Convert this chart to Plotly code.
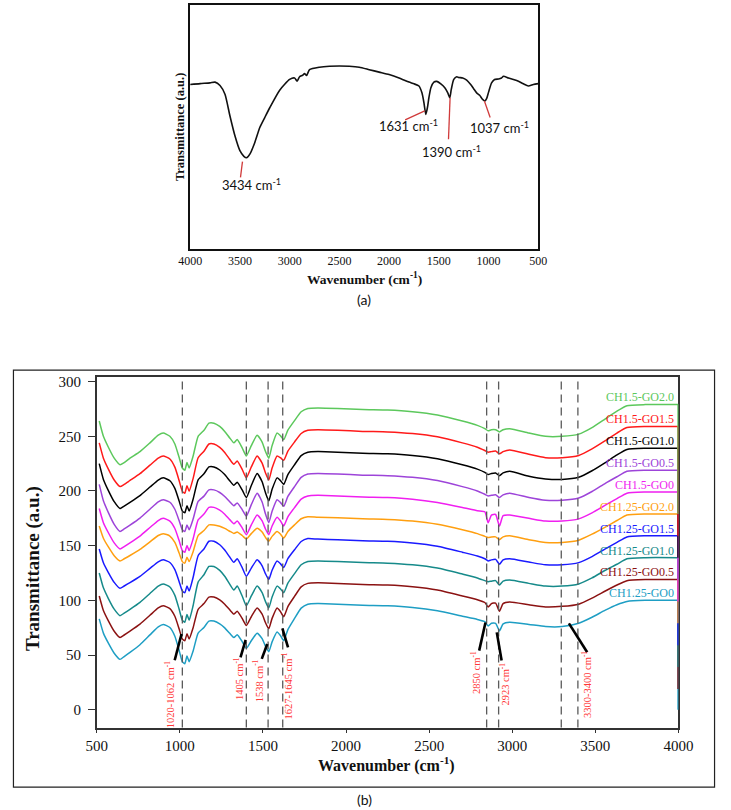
import plotly.graph_objects as go

W, H = 731, 810

# ---------------- Panel (a): GO spectrum ----------------
a_wavenumber = [4000, 3900, 3800, 3750, 3700, 3650, 3600, 3550, 3500, 3460, 3434, 3400, 3350, 3300, 3250,
                3200, 3100, 3000, 2950, 2925, 2900, 2870, 2850, 2830, 2800, 2700, 2600, 2500, 2400, 2300,
                2200, 2100, 2000, 1900, 1800, 1750, 1700, 1670, 1650, 1631, 1615, 1600, 1580, 1550, 1520,
                1480, 1440, 1410, 1390, 1375, 1350, 1320, 1300, 1260, 1220, 1180, 1150, 1120, 1090, 1060,
                1037, 1020, 1000, 970, 940, 900, 870, 850, 800, 750, 700, 650, 600, 550, 500]
a_transmittance = [67.4, 67.8, 68.1, 68.4, 67.0, 63.4, 54.5, 46.4, 40.3, 38.0, 37.4, 38.9, 43.7, 49.8, 53.9,
                   57.9, 65.1, 69.5, 70.1, 68.8, 70.6, 71.2, 71.9, 71.1, 73.5, 74.5, 74.9, 75.0, 74.9, 74.5,
                   73.5, 72.5, 71.5, 70.1, 68.4, 67.7, 66.8, 64.0, 60.0, 55.2, 57.9, 62.0, 66.1, 68.4, 68.7,
                   67.7, 66.1, 64.0, 62.0, 65.4, 69.5, 70.6, 70.3, 70.1, 69.2, 67.4, 65.7, 64.0, 63.0, 61.3,
                   60.7, 61.6, 64.3, 68.1, 69.5, 69.7, 70.1, 70.8, 70.1, 69.5, 68.8, 67.7, 66.8, 67.4, 67.8]
a_peak_text = ["3434 cm<sup>-1</sup>", "1631 cm<sup>-1</sup>", "1390 cm<sup>-1</sup>", "1037 cm<sup>-1</sup>"]
a_text_x = [3387, 1806, 1371, 894]
a_text_y = [26.3, 50.5, 40.0, 49.8]
a_lead_x0 = [3474, 1642, 1387, 1042]
a_lead_y0 = [35.8, 56.6, 62.0, 60.7]
a_lead_x1 = [3494, 1839, 1403, 984]
a_lead_y1 = [29.4, 52.9, 45.0, 53.9]
a_ticks = [4000, 3500, 3000, 2500, 2000, 1500, 1000, 500]

# ---------------- Panel (b): composite films ----------------
b_wavenumber = [515, 540, 570, 605, 640, 665, 700, 760, 820, 870, 900, 940, 970, 995, 1015, 1030, 1043, 1056,
                1080, 1110, 1145, 1175, 1205, 1240, 1270, 1300, 1325, 1345, 1375, 1400, 1430, 1465, 1495,
                1515, 1535, 1555, 1585, 1605, 1625, 1650, 1690, 1730, 1770,
                1830, 1950, 2100, 2250, 2400, 2550, 2700, 2790, 2835, 2855, 2875, 2900, 2923, 2945, 2985,
                3100, 3200, 3300, 3400, 3480, 3560, 3630, 3690, 3800, 4000]

series_names = ["CH1.25-GO0", "CH1.25-GO0.5", "CH1.25-GO1.0", "CH1.25-GO1.5", "CH1.25-GO2.0",
                "CH1.5-GO0", "CH1.5-GO0.5", "CH1.5-GO1.0", "CH1.5-GO1.5", "CH1.5-GO2.0"]
series_colors = ["#1e9ec4", "#8b1212", "#168a8a", "#1a1aff", "#ff9f10",
                 "#f01ff0", "#9d44d9", "#000000", "#ff1a1a", "#5cc85c"]

ch125_go0 = [83, 70, 60.8, 51.6, 46, 48.6, 52.4, 59.4, 68.4, 75.8, 78, 75.1, 67.2, 54.6, 43.8, 42, 49.2, 43.8,
             53.7, 70.1, 75.2, 81, 81, 78.5, 74.8, 69.8, 66, 68.5, 62.3, 56, 63, 70, 64.9, 58.1, 53, 62, 71,
             67.8, 63, 73.2, 83.4, 92.9, 96.5,
             97, 96.5, 95.5, 95, 93.5, 90.5, 85.5, 82.5, 80.5, 76.5, 79, 79, 72, 78.5, 80, 78, 76, 76, 79,
             84.5, 91, 96, 99, 100, 100]
ch125_go05 = [104, 90.7, 81.2, 71.7, 66, 68.3, 71.8, 78.2, 86.3, 93, 95, 92.4, 85.4, 74.2, 64.6, 63, 69.4, 64.6,
              75, 91.8, 97, 103, 103, 100.4, 96.5, 91.3, 87.4, 90, 83.5, 77, 85, 93, 87.3, 79.7, 74, 83.5, 93,
              89.8, 85, 94.3, 103.6, 112.3, 115.5,
              116, 115.5, 114.5, 114, 112.5, 109.5, 104, 100.5, 98, 94, 97, 97.5, 90, 97, 98.5, 96, 94, 94.5,
              96.5, 102, 108.5, 114, 118, 119, 119]
ch125_go10 = [125, 111.4, 101.6, 91.9, 86, 88.3, 91.8, 98.2, 106.3, 113, 115, 112.2, 104.5, 92.3, 81.8, 80, 87,
              81.8, 95.3, 116.7, 123.4, 131, 131, 127.4, 122, 114.8, 109.4, 113, 104, 95, 104, 113, 107, 99, 93,
              103, 113, 110.6, 107, 115.7, 124.4, 132.5, 135.5,
              136, 135.5, 134.5, 134, 132.5, 129.5, 124, 120.5, 118, 117, 117.5, 118, 114, 117.5, 118.5, 115.5,
              113, 113, 115, 120.5, 127.5, 133, 138, 139, 139]
ch125_go15 = [147, 134.4, 125.4, 116.4, 111, 113.1, 116.2, 121.9, 129.2, 135.2, 137, 134.6, 128, 117.5, 108.5,
              107, 113, 108.5, 121.1, 140.8, 147, 154, 154, 150.8, 146, 139.6, 134.8, 138, 130, 122, 129.5, 137,
              131.6, 124.4, 119, 127.5, 136, 133.6, 130, 138.1, 146.2, 153.8, 156.5,
              156, 155.5, 154.5, 154, 152.5, 149.5, 144, 140.5, 138, 136, 137, 137.5, 133, 137, 138, 135, 132.5,
              132.5, 134.5, 140, 147, 153, 158, 159, 159]
ch125_go20 = [168, 156.8, 148.8, 140.8, 136, 138, 141, 146.5, 153.5, 159.3, 161, 158.8, 152.9, 143.5, 135.4, 134,
              139.4, 135.4, 144.5, 159.2, 163.8, 169, 169, 167.7, 165.8, 163.2, 161.2, 162.5, 159.3, 156, 161,
              166, 162.4, 157.6, 154, 158.5, 163, 160.6, 157, 163, 169, 174.6, 176.5,
              176, 175.5, 174.5, 174, 172.5, 169.5, 164.5, 161, 158.5, 157.5, 158, 158, 155.5, 158, 159, 155.5,
              153, 153, 155, 160.5, 167, 173, 178, 179, 179]
ch15_go0 = [184, 171, 161.8, 152.5, 147, 149.2, 152.6, 158.8, 166.6, 173, 175, 172.5, 165.7, 154.9, 145.5, 144,
            150.2, 145.5, 156.3, 173.5, 178.9, 185, 185, 182.5, 178.8, 173.8, 170, 172.5, 166.3, 160, 169, 178,
            172.6, 165.4, 160, 168, 176, 172.8, 168, 176.4, 184.8, 192.6, 195.5,
            196, 195.5, 194.5, 194, 192.5, 189.5, 185, 182, 181, 171, 178, 178.5, 168, 177.5, 178, 175, 172.5,
            172.5, 174.5, 180, 187, 193, 198, 199, 199]
ch15_go05 = [206, 191, 180.2, 169.5, 163, 165.3, 168.8, 175.2, 183.3, 190, 192, 189.7, 183.3, 173.2, 164.5, 163,
             168.8, 164.5, 174.4, 190.4, 195.3, 201, 201, 198.6, 195, 190.2, 186.6, 189, 183, 177, 187.5, 198,
             189.9, 179.1, 171, 181.5, 192, 189.6, 186, 195, 204, 212.4, 215.5,
             216, 215.5, 214.5, 214, 212.5, 209.5, 204, 200, 197, 195.5, 196, 196.5, 194, 196.5, 198, 194, 191.5,
             191.5, 193.5, 199.5, 207, 213, 218, 219, 219]
ch15_go10 = [225, 210.6, 200.4, 190.2, 184, 186.2, 189.6, 195.8, 203.6, 210, 212, 209.4, 202.4, 191.2, 181.6, 180,
             186.4, 181.6, 192.6, 210.2, 215.7, 222, 222, 219.2, 215, 209.4, 205.2, 208, 201, 194, 205, 216,
             208.5, 198.5, 191, 201.5, 212, 209.6, 206, 215, 224, 232.4, 235.5,
             236, 235.5, 234.5, 234, 232.5, 229.5, 224, 220, 217, 215, 216, 216.5, 214, 216.5, 218, 213.5, 211,
             210.5, 212.5, 218.5, 226, 233, 238, 239, 239]
ch15_go15 = [244, 230, 220, 210, 204, 206, 209.6, 215.8, 223.6, 230, 232, 229.3, 221.8, 209.9, 199.7, 198, 204.8,
             199.7, 211.5, 230.4, 236.3, 243, 243, 239.9, 235.3, 229, 224.4, 227.5, 219.8, 212, 222, 232, 225.4,
             216.6, 210, 221, 232, 230.4, 228, 236.4, 244.8, 252.6, 255.5,
             256, 255.5, 254.5, 254, 252.5, 249.5, 244, 240, 237, 235.5, 236, 236.5, 234, 236, 237.5, 233.5,
             230.5, 230.5, 232.5, 238.5, 246, 253, 258, 259, 259]
ch15_go20 = [264, 250, 240, 230, 224, 226, 230, 236, 244, 251, 253, 250, 243, 231, 221, 219, 226, 221, 232, 250,
             255.5, 262, 262, 259, 254.5, 248.5, 244, 247, 239.5, 232, 241.5, 251, 244.7, 236.3, 230, 241.5, 253,
             250.6, 247, 255.7, 264.4, 272.5, 275.5,
             276, 275.5, 274.5, 274, 272.5, 269.5, 264, 260, 257, 255, 256, 256, 254, 256, 257, 253, 250, 250,
             252, 258, 266, 273, 278, 279, 279]
series_values = [ch125_go0, ch125_go05, ch125_go10, ch125_go15, ch125_go20,
                 ch15_go0, ch15_go05, ch15_go10, ch15_go15, ch15_go20]
edge_drop = [0, 19, 39, 59, 79, 99, 119, 139, 159, 179]

band_lines = [1015, 1400, 1531, 1619, 2846, 2918, 3295, 3395]
band_text = ["1020-1062 cm<sup>-1</sup>", "1405 cm<sup>-1</sup>", "1538 cm<sup>-1</sup>",
             "1627-1645 cm<sup>-1</sup>", "2850 cm<sup>-1</sup>", "2923 cm<sup>-1</sup>",
             "3300-3400 cm<sup>-1</sup>"]
band_text_x = [934, 1353, 1469, 1641, 2779, 2951, 3447]
band_text_y = [14, 28.5, 26.7, 21.5, 34, 23, 23]
lead_x0 = [969, 1365, 1493, 1651, 2801, 2936, 3451]
lead_y0 = [45.2, 47.9, 46.5, 57, 54, 44.9, 52.5]
lead_x1 = [1010, 1396, 1526, 1617, 2839, 2907, 3341]
lead_y1 = [69.2, 63.8, 60.1, 74.3, 79.8, 70.7, 78.9]
b_yticks = [0, 50, 100, 150, 200, 250, 300]
b_xticks = [500, 1000, 1500, 2000, 2500, 3000, 3500, 4000]

SERIF = "Liberation Serif, Times New Roman, serif"
SANS = "Lato, Open Sans, sans-serif"


def px(x):
    return x / W


def py(y):
    return 1 - y / H


fig = go.Figure()

fig.add_trace(go.Scatter(x=a_wavenumber, y=a_transmittance, mode="lines", xaxis="x", yaxis="y",
                         line=dict(color="#111111", width=1.6, shape="spline", smoothing=0.6),
                         showlegend=False, hoverinfo="skip"))

for name, col, vals in zip(series_names, series_colors, series_values):
    fig.add_trace(go.Scatter(x=b_wavenumber, y=vals, mode="lines", xaxis="x2", yaxis="y2", name=name,
                             line=dict(color=col, width=1.5, shape="spline", smoothing=0.5),
                             showlegend=False, hoverinfo="skip"))
for col, vals, low in zip(series_colors, series_values, edge_drop):
    fig.add_trace(go.Scatter(x=[b_wavenumber[-1], b_wavenumber[-1]], y=[vals[-1], low], mode="lines",
                             xaxis="x2", yaxis="y2", line=dict(color=col, width=2.2),
                             showlegend=False, hoverinfo="skip"))

shapes = []
annotations = []

# panel a leaders and labels
for t, tx, ty, x0, y0, x1, y1 in zip(a_peak_text, a_text_x, a_text_y, a_lead_x0, a_lead_y0, a_lead_x1, a_lead_y1):
    shapes.append(dict(type="line", xref="x", yref="y", x0=x0, y0=y0, x1=x1, y1=y1,
                       line=dict(color="#d03a3a", width=1.3)))
    annotations.append(dict(text=t, x=tx, y=ty, xref="x", yref="y", showarrow=False,
                            font=dict(family=SANS, size=13, color="#111111"), xanchor="center", yanchor="middle"))

# panel b dashed band lines
for bx in band_lines:
    shapes.append(dict(type="line", xref="x2", yref="y2 domain", x0=bx, x1=bx, y0=0, y1=0.986,
                       line=dict(color="#5a5a5a", width=1.3, dash="8px,5px")))
# leaders and band labels
for t, tx, ty, x0, y0, x1, y1 in zip(band_text, band_text_x, band_text_y, lead_x0, lead_y0, lead_x1, lead_y1):
    shapes.append(dict(type="line", xref="x2", yref="y2", x0=x0, y0=y0, x1=x1, y1=y1,
                       line=dict(color="#000000", width=2.6)))
    annotations.append(dict(text=t, x=tx, y=ty, xref="x2", yref="y2", showarrow=False, textangle=-90,
                            font=dict(family=SERIF, size=10.5, color="#ff3636"),
                            xanchor="center", yanchor="middle"))

# series labels
for name, col, vals in zip(series_names, series_colors, series_values):
    annotations.append(dict(text=name, x=b_wavenumber[-1], y=vals[-1] + 6.5, xref="x2", yref="y2",
                            showarrow=False, xanchor="right", yanchor="middle", xshift=-2,
                            font=dict(family=SERIF, size=12, color=col)))

# outer box of panel b
shapes.append(dict(type="rect", xref="paper", yref="paper", x0=px(1.5), x1=px(729.5), y0=py(787), y1=py(368.5),
                   line=dict(color="#222222", width=1.2)))

# titles
annotations += [
    dict(text="<b>Transmittance (a.u.)</b>", x=px(174), y=py(125), xref="paper", yref="paper", showarrow=False,
         textangle=-90, font=dict(family=SERIF, size=12.5, color="#111"), xanchor="center", yanchor="middle"),
    dict(text="<b>Wavenumber (cm<sup>-1</sup>)</b>", x=px(366), y=py(277), xref="paper", yref="paper",
         showarrow=False, font=dict(family=SERIF, size=13.5, color="#111"), xanchor="center", yanchor="middle"),
    dict(text="(a)", x=px(366), y=py(298), xref="paper", yref="paper", showarrow=False,
         font=dict(family=SANS, size=14, color="#111"), xanchor="center", yanchor="middle"),
    dict(text="<b>Transmittance (a.u.)</b>", x=px(22), y=py(568), xref="paper", yref="paper", showarrow=False,
         textangle=-90, font=dict(family=SERIF, size=19, color="#111"), xanchor="center", yanchor="middle"),
    dict(text="<b>Wavenumber (cm<sup>-1</sup>)</b>", x=px(389), y=py(764), xref="paper", yref="paper",
         showarrow=False, font=dict(family=SERIF, size=16, color="#111"), xanchor="center", yanchor="middle"),
    dict(text="(b)", x=px(366), y=py(799), xref="paper", yref="paper", showarrow=False,
         font=dict(family=SANS, size=14, color="#111"), xanchor="center", yanchor="middle"),
]

fig.update_layout(
    width=W, height=H, margin=dict(l=0, r=0, t=0, b=0), paper_bgcolor="white", plot_bgcolor="white",
    showlegend=False, shapes=shapes, annotations=annotations,
    xaxis=dict(domain=[px(185), px(546.5)], anchor="y", range=[4000, 500], tickvals=a_ticks,
               showline=True, mirror=True, linecolor="#111", linewidth=1.5, showgrid=False, zeroline=False,
               ticks="outside", ticklen=0, ticklabelstandoff=0,
               tickfont=dict(family=SERIF, size=12, color="#111")),
    yaxis=dict(domain=[py(247), py(2)], anchor="x", range=[0, 100], showticklabels=False, ticks="",
               showline=True, mirror=True, linecolor="#111", linewidth=1.5, showgrid=False, zeroline=False),
    xaxis2=dict(domain=[px(88), px(692)], anchor="y2", range=[500, 4000], tickvals=b_xticks,
                showline=True, mirror=True, linecolor="#333", linewidth=1.5, showgrid=False, zeroline=False,
                ticks="outside", ticklen=4, tickwidth=1.2, tickcolor="#333",
                tickfont=dict(family=SERIF, size=15, color="#111")),
    yaxis2=dict(domain=[py(727.3), py(375)], anchor="x2", range=[-16.4, 304.6], tickvals=b_yticks,
                showline=True, mirror=True, linecolor="#333", linewidth=1.5, showgrid=False, zeroline=False,
                ticks="outside", ticklen=7, tickwidth=1.2, tickcolor="#333", layer="below traces",
                ticklabelstandoff=4,
                tickfont=dict(family=SERIF, size=15, color="#111")),
)

fig.write_html("out.html")
